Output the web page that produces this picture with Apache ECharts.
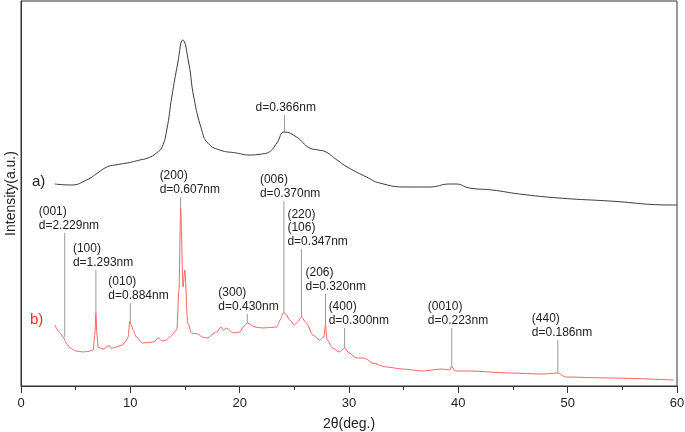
<!DOCTYPE html>
<html>
<head>
<meta charset="utf-8">
<script src="https://cdn.jsdelivr.net/npm/echarts@6/dist/echarts.min.js"></script>
<style>html,body{margin:0;padding:0;background:#fff}#c{width:685px;height:432px}</style>
</head>
<body>
<div id="c"></div>
<script>
// Curve a) : [2θ, intensity (a.u.)]
var curveA = [
[3.1,202],[4.6,201],[6.0,206],[7.0,213],[7.85,219],[8.6,221],[9.7,223],[10.87,226],[11.6,228],[12.4,233],
[12.9,239],[13.33,256],[13.79,289],[14.34,323],[14.8,346],[15.34,323],[15.8,289],[16.53,256],[17.08,243],[18.17,236],
[19.7,233],[20.9,231],[22.0,232],[22.7,234],[23.4,243],[24.1,254],[25.2,249],[26.4,238],[27.2,236],[27.9,234],
[28.9,226],[30.0,218],[31.6,209],[32.8,203],[35.3,199],[37.4,199],[39.2,202],[39.8,202],[41.0,198],[43.1,196],
[45.6,192],[49.2,188],[53.8,185],[59.7,181],[60,181]
];
// Curve b)
var curveB = [
[3.1,61],[3.5,54],[3.85,49],[4.2,42],[4.5,38],[5.0,35],[5.7,34],[6.3,35],[6.6,36],[6.75,51],[6.85,73],[6.95,51],
[7.05,39],[7.5,37],[7.9,39],[8.05,41],[8.2,38],[8.4,38],[9.3,41],[9.6,45],[9.8,49],[9.95,65],[10.1,61],[10.25,56],
[10.55,49],[11.1,43],[12.1,44],[12.6,48],[12.9,45],[13.3,46],[13.6,49],[14.25,56],[14.45,96],[14.6,178],[14.82,99],
[14.98,116],[15.25,63],[15.6,53],[16.16,52],[16.6,49],[17.0,48],[17.9,54],[18.3,59],[18.5,56],
[18.8,58],[19.4,53],[20.0,54],[20.4,60],[20.7,63],[21.4,59],[22.1,58],[23.4,59],[23.7,66],[24.0,73],[24.2,72],
[24.6,66],[25.0,61],[25.3,64],[25.65,69],[26.1,63],[26.7,51],[27.3,46],[27.7,49],[27.85,61],[28.0,46],[28.5,38],
[29.1,34],[29.6,38],[30.0,33],[30.7,28],[31.3,28],[31.6,27],[32.1,23],[33.4,19],[34.9,17],[36.7,15],[38.5,17],
[39.2,16],[39.4,20],[39.6,16],[39.8,15],[41.0,15],[44.7,13],[47.7,12],[49.1,13],[49.8,9],[53.8,8],[59.7,6]
];
// Peak annotations
var annText = ['(001)\nd=2.229nm','(100)\nd=1.293nm','(010)\nd=0.884nm','(200)\nd=0.607nm','(300)\nd=0.430nm',
  '(006)\nd=0.370nm','(220)\n(106)\nd=0.347nm','(206)\nd=0.320nm','(400)\nd=0.300nm','(0010)\nd=0.223nm',
  '(440)\nd=0.186nm','d=0.366nm'];
var annX    = [4.0, 6.85, 10.0, 14.6, 20.7, 24.05, 25.65, 27.85, 29.6, 39.4, 49.1, 24.1];
var annPeak = [49, 73, 65, 178, 63, 73, 69, 61, 38, 20, 13, 254];
var annLevel= [153, 116, 83, 189, 72, 185, 137, 92, 58, 58, 46, 271];
var xTicks = [0,10,20,30,40,50,60];

// label placement (px offsets of text left edge from leader line)
var annDx = [-26, -23, -22, -21, -29, -24, -14, -20, -16, -24, -26, -29];

var annData = annX.map(function(x,i){ return [x, annLevel[i], annPeak[i], i]; });

var chart = echarts.init(document.getElementById('c'));
var font = 'Liberation Sans, Arial, sans-serif';
chart.setOption({
  animation:false,
  grid:{left:21,right:8,top:1,bottom:46,show:true,borderColor:'#333',borderWidth:1,outerBoundsMode:'none',containLabel:false},
  xAxis:{type:'value',min:0,max:60,interval:10,
    name:'2θ(deg.)',nameLocation:'middle',nameGap:31,
    nameTextStyle:{fontFamily:font,fontSize:14,color:'#222'},
    axisLine:{show:true,lineStyle:{color:'#333',width:1}},
    axisTick:{show:true,inside:false,length:7,lineStyle:{color:'#333'}},
    minorTick:{show:true,splitNumber:2,length:4,lineStyle:{color:'#333'}},
    axisLabel:{fontFamily:font,fontSize:13,color:'#222',margin:11,
      formatter:function(v){return xTicks.indexOf(v)>=0?String(v):'';}},
    splitLine:{show:false}},
  yAxis:{type:'value',min:0,max:385,
    name:'Intensity(a.u.)',nameLocation:'middle',nameGap:3,
    nameTextStyle:{fontFamily:font,fontSize:14,color:'#222'},
    axisLine:{show:true,lineStyle:{color:'#333',width:1}},
    axisTick:{show:false},axisLabel:{show:false},splitLine:{show:false}},
  series:[
    {type:'line',data:curveA,showSymbol:false,smooth:0.5,
      lineStyle:{color:'#3a3a3a',width:1},z:3},
    {type:'line',data:curveB,showSymbol:false,smooth:0.3,smoothMonotone:'x',
      lineStyle:{color:'#ff6262',width:1},z:3},
    {type:'custom',data:annData,z:2,
      renderItem:function(params,api){
        var i = api.value(3);
        var p1 = api.coord([api.value(0),api.value(1)]);
        var p2 = api.coord([api.value(0),api.value(2)]);
        return {type:'group',children:[
          {type:'line',shape:{x1:p1[0],y1:p1[1],x2:p2[0],y2:p2[1]},style:{stroke:'#9a9a9a',lineWidth:1}},
          {type:'text',x:p1[0]+annDx[i],y:p1[1]-1,style:{text:annText[i],fill:'#222',
            font:'12px '+font,textAlign:'left',textVerticalAlign:'bottom',lineHeight:13.5}}
        ]};
      }}
  ],
  graphic:[
    {type:'text',left:32,top:174,style:{text:'a)',fill:'#222',font:'15px '+font}},
    {type:'text',left:30,top:312,style:{text:'b)',fill:'#ff2a2a',font:'15px '+font}}
  ]
});
</script>
</body>
</html>
